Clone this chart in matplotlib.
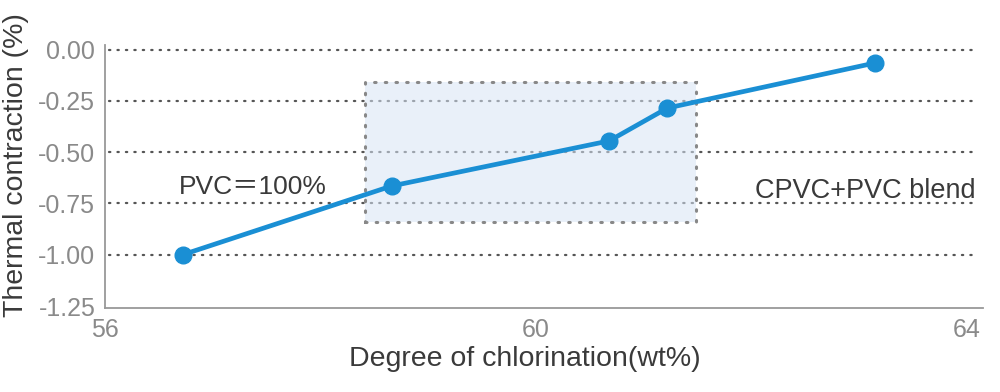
import matplotlib.pyplot as plt
from matplotlib.patches import Rectangle

# data
chlorination = [56.72, 58.66, 60.68, 61.22, 63.15]
contraction = [-1.00, -0.665, -0.445, -0.285, -0.065]
yticks = [0.0, -0.25, -0.50, -0.75, -1.00, -1.25]
xticks = [56, 60, 64]
blend_x = (58.41, 61.49)
blend_y = (-0.84, -0.16)

plt.rcParams['font.family'] = ['Liberation Sans', 'Noto Sans CJK JP', 'DejaVu Sans']

fig = plt.figure(figsize=(10, 3.92), dpi=100)
ax = fig.add_axes([0.105, 0.214, 0.878, 0.67])

blue = '#1a8fd4'
grey = '#8a8a8a'
dark = '#3a3a3a'

for y in yticks[:-1]:
    ax.axhline(y, xmin=0.005, xmax=0.99, color='#555555', lw=1.6,
               linestyle=(0, (0.6, 3.2)), dash_capstyle='round', zorder=1)

box = Rectangle((blend_x[0], blend_y[0]), blend_x[1] - blend_x[0], blend_y[1] - blend_y[0],
                facecolor='#d7e4f5', alpha=0.55, edgecolor='none', zorder=2)
ax.add_patch(box)
edge = Rectangle((blend_x[0], blend_y[0]), blend_x[1] - blend_x[0], blend_y[1] - blend_y[0],
                 facecolor='none', edgecolor='#888888', lw=2.2,
                 linestyle=(0, (0.5, 3.0)), capstyle='round', zorder=2.5)
ax.add_patch(edge)

ax.plot(chlorination, contraction, color=blue, lw=3.4, marker='o', markersize=12, zorder=3)

ax.text(56.69, -0.67, 'PVC＝100%', fontsize=19, color=dark, va='center', ha='left')
ax.text(64.08, -0.69, 'CPVC+PVC blend', fontsize=19.5, color=dark, va='center', ha='right')

ax.set_xlim(56, 64.15)
ax.set_ylim(-1.26, 0.02)
ax.set_xticks(xticks)
ax.set_yticks(yticks)
ax.set_yticklabels(['%.2f' % v for v in yticks])
ax.tick_params(length=0, labelsize=18, labelcolor=grey, pad=7)

for s in ['top', 'right']:
    ax.spines[s].set_visible(False)
for s in ['left', 'bottom']:
    ax.spines[s].set_color('#999999')
    ax.spines[s].set_linewidth(1.3)

ax.set_xlabel('Degree of chlorination(wt%)', fontsize=20.5, color=dark)
ax.set_ylabel('Thermal contraction (%)', fontsize=20.5, color=dark)
ax.xaxis.set_label_coords(0.478, -0.145)
ax.yaxis.set_label_coords(-0.086, 0.545)

fig.savefig('out.png', dpi=100)
